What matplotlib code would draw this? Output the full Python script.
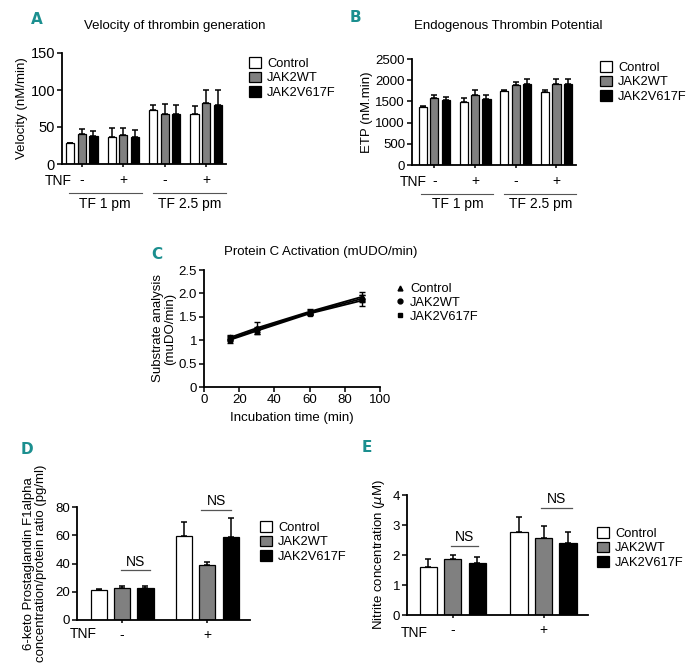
import numpy as np
import matplotlib

matplotlib.use("Agg")
import matplotlib.pyplot as plt
from matplotlib.patches import Patch
from matplotlib.lines import Line2D

plt.rcParams["font.family"] = ["Liberation Sans", "DejaVu Sans"]
plt.rcParams["font.size"] = 8.5

W, H = 699, 671
TEAL = "#1b8f8f"
SERIES = ["Control", "JAK2WT", "JAK2V617F"]
COLORS = ["white", "#808080", "black"]

# A: velocity of thrombin generation (nM/min), groups: TF1 -, TF1 +, TF2.5 -, TF2.5 +
vel_mean = [[28, 37, 73, 68], [41, 39, 67, 82], [38, 36, 68, 80]]
vel_err = [[0, 11, 7, 11], [6, 9, 14, 18], [6, 10, 12, 20]]

# B: endogenous thrombin potential (nM.min)
etp_mean = [[1364, 1481, 1755, 1716], [1591, 1646, 1881, 1920], [1528, 1552, 1904, 1904]]
etp_err = [[39, 102, 24, 63], [70, 133, 78, 110], [79, 109, 126, 126]]

# C: protein C activation
time_min = [15, 30, 60, 90]
pc_mean = [[1.06, 1.26, 1.61, 1.93], [1.03, 1.23, 1.59, 1.89], [1.01, 1.20, 1.57, 1.85]]
pc_err = [[0.05, 0.12, 0.06, 0.09], [0.05, 0.06, 0.05, 0.08], [0.06, 0.07, 0.04, 0.12]]
pc_markers = ["^", "o", "s"]

# D: 6-keto PGF1alpha (pg/ml), TNF - / +
pgf_mean = [[21.5, 59.5], [22.8, 38.8], [22.6, 58.8]]
pgf_err = [[0.6, 10.0], [1.4, 2.2], [1.8, 13.2]]

# E: nitrite (uM)
nit_mean = [[1.61, 2.77], [1.86, 2.56], [1.73, 2.39]]
nit_err = [[0.27, 0.49], [0.13, 0.41], [0.19, 0.37]]

TNF_4 = ["-", "+", "-", "+"]
TNF_2 = ["-", "+"]


def axes_px(left, top, right, bottom):
    return fig.add_axes([left / W, 1 - bottom / H, (right - left) / W, (bottom - top) / H])


def style(ax, size=9.5):
    for s in ["top", "right"]:
        ax.spines[s].set_visible(False)
    for s in ["left", "bottom"]:
        ax.spines[s].set_linewidth(1.3)
    ax.tick_params(width=1.1, length=3.5, labelsize=size, pad=1.5)


def bars(ax, means, errs, d, w):
    x = np.arange(len(means[0]))
    for i, (m, e) in enumerate(zip(means, errs)):
        ax.bar(x + (i - 1) * d, m, w, color=COLORS[i], edgecolor="black", linewidth=0.9,
               yerr=[np.zeros(len(e)), e], capsize=2.5,
               error_kw={"elinewidth": 1.1, "capthick": 1.1})
    return x


def legend(ax, left, top, kind="bar"):
    if kind == "bar":
        h = [Patch(facecolor=c, edgecolor="black", linewidth=0.9) for c in COLORS]
        hl, hh = 0.9, 0.9
    else:
        h = [Line2D([], [], ls="none", marker=m, color="black", markersize=3.5) for m in pc_markers]
        hl, hh = 0.6, 0.7
    ax.legend(h, SERIES, loc="upper left", bbox_to_anchor=(left / W, 1 - top / H),
              bbox_transform=fig.transFigure, frameon=False, fontsize=9.3,
              handlelength=hl, handleheight=hh, handletextpad=0.5, labelspacing=0.14,
              borderpad=0, borderaxespad=0)


def letter(x, y, s):
    fig.text(x / W, 1 - y / H, s, color=TEAL, fontsize=11, fontweight="bold",
             ha="center", va="center", family=["DejaVu Sans Condensed", "DejaVu Sans"])


def tf_groups(ax, y_line, y_text):
    tr = ax.get_xaxis_transform()
    for (a, b), lab in [((-0.32, 1.45), "TF 1 pm"), ((1.72, 3.48), "TF 2.5 pm")]:
        ax.plot([a, b], [y_line, y_line], color="#555555", lw=0.8, transform=tr, clip_on=False)
        ax.text((a + b) / 2, y_text, lab, transform=tr, ha="center", va="center", fontsize=10)


def ns(ax, x0, x1, y, ytxt):
    ax.plot([x0, x1], [y, y], color="#555555", lw=0.9, clip_on=False)
    ax.text((x0 + x1) / 2, ytxt, "NS", ha="center", va="center", fontsize=10)


fig = plt.figure(figsize=(W / 100, H / 100), dpi=100)

# ---- A
ax = axes_px(62, 53, 226, 164)
x = bars(ax, vel_mean, vel_err, 0.28, 0.2)
ax.set_xlim(-0.48, 3.48)
ax.set_ylim(0, 150)
ax.set_yticks([0, 50, 100, 150])
ax.set_xticks(x)
ax.set_xticklabels(TNF_4)
ax.set_ylabel("Velocity (nM/min)", fontsize=9.5, labelpad=2)
style(ax, 10.5)
ax.tick_params(axis="x", length=2.5, pad=4, labelsize=10)
ax.text(-0.24, -0.155, "TNF", transform=ax.get_xaxis_transform(), ha="right", va="center", fontsize=10)
tf_groups(ax, -0.26, -0.36)
fig.text(175 / W, 1 - 26 / H, "Velocity of thrombin generation", ha="center", va="center", fontsize=9.5)
legend(ax, 249, 57)
letter(37, 20, "A")

# ---- B
ax = axes_px(412, 59, 576, 165)
x = bars(ax, etp_mean, etp_err, 0.28, 0.2)
ax.set_xlim(-0.55, 3.48)
ax.set_ylim(0, 2500)
ax.set_yticks(np.arange(0, 2501, 500))
ax.set_xticks(x)
ax.set_xticklabels(TNF_4)
ax.set_ylabel("ETP (nM.min)", fontsize=9.5, labelpad=2)
style(ax)
ax.tick_params(axis="x", length=2.5, pad=4, labelsize=10)
ax.text(-0.18, -0.165, "TNF", transform=ax.get_xaxis_transform(), ha="right", va="center", fontsize=10)
tf_groups(ax, -0.27, -0.37)
fig.text(508 / W, 1 - 26 / H, "Endogenous Thrombin Potential", ha="center", va="center", fontsize=9.5)
legend(ax, 600, 61)
letter(355, 17, "B")

# ---- C
ax = axes_px(204, 270, 380, 387)
for i in range(3):
    ax.errorbar(time_min, pc_mean[i], yerr=pc_err[i], color="black", lw=1.3,
                marker=pc_markers[i], markersize=3.5, capsize=2.5, elinewidth=1.0)
ax.set_xlim(0, 100)
ax.set_ylim(0, 2.5)
ax.set_xticks(np.arange(0, 101, 20))
ax.set_yticks([0, 0.5, 1, 1.5, 2, 2.5])
ax.set_yticklabels(["0", "0.5", "1", "1.5", "2.0", "2.5"])
ax.set_xlabel("Incubation time (min)", fontsize=9.5, labelpad=4)
ax.set_ylabel("Substrate analysis\n(muDO/min)", fontsize=9.5, labelpad=2, linespacing=1.0)
style(ax)
fig.text(321 / W, 1 - 252 / H, "Protein C Activation (mUDO/min)", ha="center", va="center", fontsize=9.5)
legend(ax, 396, 283, kind="line")
letter(157, 254, "C")

# ---- D
ax = axes_px(77, 507, 250, 620)
x = bars(ax, pgf_mean, pgf_err, 0.273, 0.19)
ax.set_xlim(-0.53, 1.5)
ax.set_ylim(0, 80)
ax.set_yticks(np.arange(0, 81, 20))
ax.set_xticks(x)
ax.set_xticklabels(TNF_2)
ax.set_ylabel("6-keto Prostaglandin F1alpha\nconcentration/protein ratio (pg/ml)", fontsize=9.5,
              labelpad=6, linespacing=1.0)
style(ax)
ax.tick_params(axis="x", length=2.5, pad=3, labelsize=10)
ax.text(-0.62, -0.12, "TNF", transform=ax.get_xaxis_transform(), ha="left", va="center", fontsize=10)
ns(ax, -0.01, 0.33, 35.3, 41)
ns(ax, 0.93, 1.28, 78, 84.5)
legend(ax, 260, 521)
letter(27, 450, "D")

# ---- E
ax = axes_px(407, 495, 588, 615)
x = bars(ax, nit_mean, nit_err, 0.27, 0.19)
ax.set_xlim(-0.505, 1.49)
ax.set_ylim(0, 4)
ax.set_yticks(np.arange(0, 5, 1))
ax.set_xticks(x)
ax.set_xticklabels(TNF_2)
ax.set_ylabel(r"Nitrite concentration ($\mu$M)", fontsize=9.5, labelpad=4)
style(ax)
ax.tick_params(axis="x", length=2.5, pad=3, labelsize=10)
ax.text(-0.57, -0.15, "TNF", transform=ax.get_xaxis_transform(), ha="left", va="center", fontsize=10)
ns(ax, -0.02, 0.28, 2.3, 2.59)
ns(ax, 0.97, 1.31, 3.57, 3.87)
legend(ax, 597, 527)
letter(367, 447, "E")

fig.savefig("out.png", dpi=100)
